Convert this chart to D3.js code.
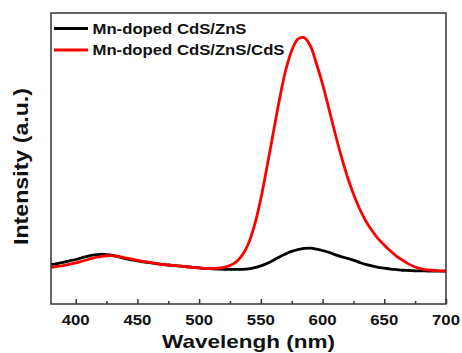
<!DOCTYPE html>
<html><head><meta charset="utf-8">
<script src="https://cdn.jsdelivr.net/npm/d3@7/dist/d3.min.js"></script>
<style>body{margin:0;background:#fff}svg{display:block}text{font-family:"Liberation Sans",Arial,sans-serif;font-weight:bold;fill:#111}</style>
</head><body><svg id="c" width="462" height="353"></svg>
<script>
const wavelength = [380,385,390,395,400,405,410,415,420,425,430,435,440,445,450,455,460,465,470,475,480,485,490,495,500,505,510,515,520,525,530,535,540,545,550,555,560,565,570,575,580,585,590,595,600,605,610,615,620,625,630,635,640,645,650,655,660,665,670,675,680,685,690,695,700];
const cdsZns = [133,136,140,145,150,156,162,166,168,167,164,159,153,149,145,142,139,136,133,131,129,127,125,123,121,119,118,117,116,116,116,116,118,122,128,136,147,159,169,178,184,188,189,186,181,175,167,160,154,148,140,133,128,123,120,117,115,113,112,111,111,110,110,110,110];
const cdsZnsCds = [123,126,129,133,138,144,150,156,160,163,163,160,156,152,147,143,140,136,133,131,129,127,125,123,121,119,119,120,123,129,142,165,205,270,360,470,585,700,800,870,910,915,888,826,755,672,588,508,437,376,325,283,250,222,200,179,161,147,134,124,118,114,112,111,110];
const xTicks = [400,450,500,550,600,650,700];
const xMinor = [425,475,525,575,625,675];
const seriesNames = ["Mn-doped CdS/ZnS","Mn-doped CdS/ZnS/CdS"];
const seriesColors = ["#000000","#ff0000"];

const svg = d3.select("#c");
const L=51,R=446,T=13,B=304;
const x = d3.scaleLinear().domain([380,700]).range([L,R]);
const y = d3.scaleLinear().domain([0,1000]).range([303,13]);

const line = d3.line().x(d=>x(d[0])).y(d=>y(d[1])).curve(d3.curveCatmullRom);
[cdsZns, cdsZnsCds].forEach((s,i)=>{
  svg.append("path").datum(wavelength.map((w,j)=>[w,s[j]]))
    .attr("d",line).attr("fill","none").attr("stroke",seriesColors[i])
    .attr("stroke-width",2.8).attr("stroke-linejoin","round");
});

// frame
svg.append("rect").attr("x",L).attr("y",T).attr("width",R-L).attr("height",B-T)
  .attr("fill","none").attr("stroke","#333").attr("stroke-width",1.5);

// ticks
const gx = svg.append("g").attr("transform",`translate(0,${B})`);
gx.call(d3.axisBottom(x).tickValues(xTicks).tickSize(-5).tickFormat(""));
gx.select(".domain").remove();
gx.selectAll("line").attr("stroke","#333").attr("stroke-width",1.5);
const gm = svg.append("g").attr("transform",`translate(0,${B})`);
gm.call(d3.axisBottom(x).tickValues(xMinor).tickSize(-3).tickFormat(""));
gm.select(".domain").remove();
gm.selectAll("line").attr("stroke","#333").attr("stroke-width",1.5);

xTicks.forEach(t=>{
  svg.append("text").attr("x",x(t)).attr("y",325).attr("text-anchor","middle")
    .attr("font-size",15).attr("textLength",28).attr("lengthAdjust","spacingAndGlyphs").text(t);
});

svg.append("text").attr("x",248.5).attr("y",348).attr("text-anchor","middle")
  .attr("font-size",19).attr("textLength",173).attr("lengthAdjust","spacingAndGlyphs").text("Wavelengh (nm)");
svg.append("text").attr("transform","translate(27.5,166.5) rotate(-90)").attr("text-anchor","middle")
  .attr("font-size",20).attr("textLength",157).attr("lengthAdjust","spacingAndGlyphs").text("Intensity (a.u.)");

// legend
const legY=[28.5,50], legBase=[34.3,55], legW=[154,192];
seriesNames.forEach((n,i)=>{
  svg.append("line").attr("x1",54).attr("x2",88).attr("y1",legY[i]).attr("y2",legY[i])
    .attr("stroke",seriesColors[i]).attr("stroke-width",3);
  svg.append("text").attr("x",92.5).attr("y",legBase[i]).attr("font-size",15.5)
    .attr("textLength",legW[i]).attr("lengthAdjust","spacingAndGlyphs").text(n);
});
</script></body></html>
